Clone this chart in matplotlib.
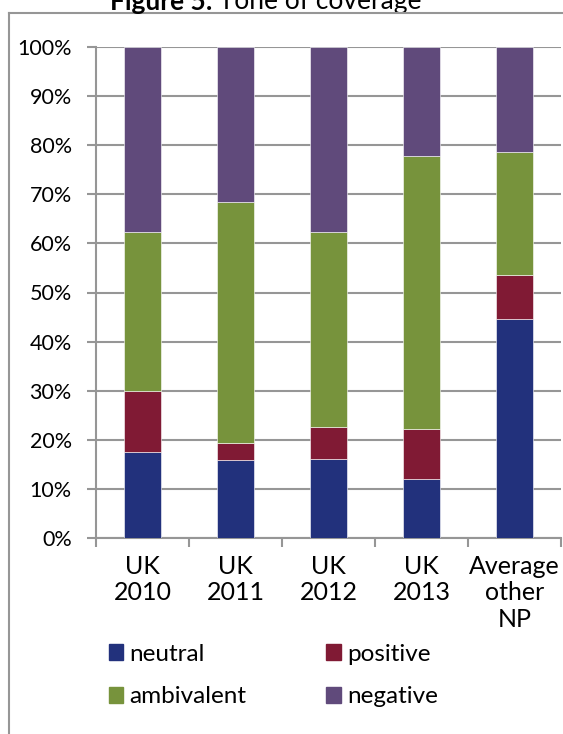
import matplotlib.pyplot as plt
import numpy as np
from matplotlib.lines import Line2D
from matplotlib.patches import Patch

plt.rcParams['font.family'] = ['Lato', 'DejaVu Sans']

# Tone of coverage (% of articles)
categories = ['UK\n2010', 'UK\n2011', 'UK\n2012', 'UK\n2013', 'Average\nother\nNP']
neutral = [17.6, 15.8, 16.0, 12.0, 44.6]
positive = [12.4, 3.6, 6.7, 10.1, 9.0]
ambivalent = [32.3, 49.0, 39.6, 55.7, 25.0]
negative = [37.7, 31.6, 37.7, 22.2, 21.4]

series = [('neutral', neutral, '#22317C'),
          ('positive', positive, '#801A34'),
          ('ambivalent', ambivalent, '#77933C'),
          ('negative', negative, '#604A7B')]

fig = plt.figure(figsize=(5.63, 7.34), dpi=100)
ax = fig.add_axes([96/563, 1 - 538/734, 465/563, 491/734])

x = np.arange(len(categories))
bottom = np.zeros(len(categories))
for name, vals, col in series:
    ax.bar(x, vals, width=0.4, bottom=bottom, color=col, edgecolor='white',
           linewidth=0.4, zorder=3, label=name)
    bottom += np.array(vals)

grey = '#969696'
ax.set_xlim(-0.5, len(categories) - 0.5)
ax.set_ylim(0, 100)
ax.set_yticks(np.arange(0, 101, 10))
ax.set_yticklabels([f'{v}%' for v in range(0, 101, 10)])
ax.yaxis.grid(True, color=grey, linewidth=1.5, zorder=0)

# boundary ticks as marks, labels on minor ticks at bar centres
ax.set_xticks(np.arange(len(categories) + 1) - 0.5)
ax.set_xticklabels([])
ax.set_xticks(x, minor=True)
ax.set_xticklabels(categories, minor=True, linespacing=1.2)
ax.tick_params(axis='x', which='major', length=6.5, width=1.5, color=grey)
ax.tick_params(axis='x', which='minor', length=0, pad=12, labelsize=18)
ax.tick_params(axis='y', length=6.5, width=1.5, color=grey, pad=11, labelsize=15.5)

for s in ['top', 'right']:
    ax.spines[s].set_visible(False)
for s in ['left', 'bottom']:
    ax.spines[s].set_color(grey)
    ax.spines[s].set_linewidth(1.5)

# outer frame of the chart (left and top edges)
fig.add_artist(Line2D([9/563, 9/563], [0, 1 - 13/734], color=grey, linewidth=1.5))
fig.add_artist(Line2D([9/563, 1], [1 - 13/734, 1 - 13/734], color=grey, linewidth=1.5))

# title, partly above the top edge as in the source
t1 = fig.text(110/563, 1 - 10/734, 'Figure 5:', ha='left', va='baseline',
              fontsize=19, fontweight='bold')
ax.annotate(' Tone of coverage', xy=(1, 0), xycoords=t1, ha='left',
            va='bottom', fontsize=19, annotation_clip=False)

handles = [Patch(color=c) for _, _, c in series]
labels = [n for n, _, _ in series]
order = [0, 2, 1, 3]
fig.legend([handles[i] for i in order], [labels[i] for i in order], ncol=2,
           loc='upper left', bbox_to_anchor=(0.154, 0.153), frameon=False,
           fontsize=17.5, handlelength=0.6, handleheight=0.6, handletextpad=0.25,
           columnspacing=3.3, labelspacing=0.9)

fig.savefig('out.png', dpi=100)
